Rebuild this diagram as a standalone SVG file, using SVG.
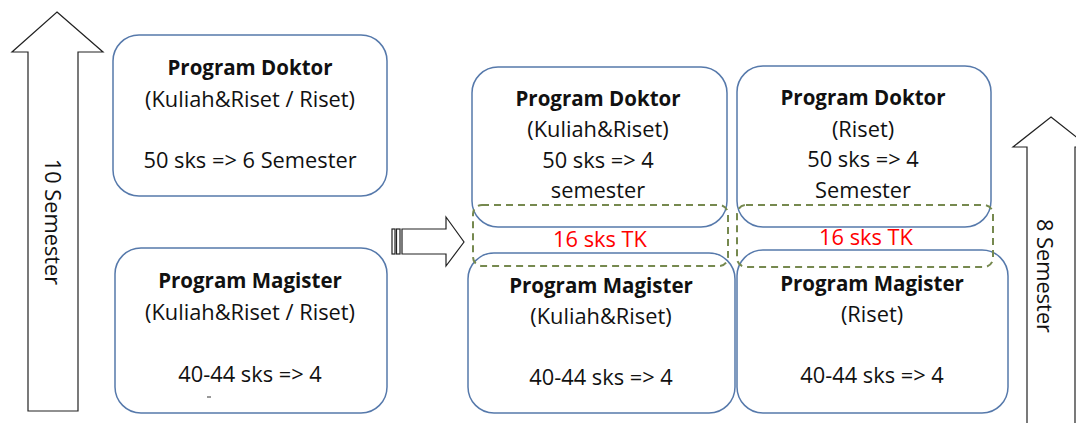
<svg xmlns="http://www.w3.org/2000/svg" width="1076" height="423" viewBox="0 0 1076 423">
<style>
.box{fill:#fff;stroke:#5679ab;stroke-width:1.5}
.arrow{fill:#fff;stroke:#222;stroke-width:1.2}
.dash{fill:none;stroke:#76894f;stroke-width:2;stroke-dasharray:7,5}
text{font-family:"Open Sans","Liberation Sans",sans-serif;fill:#111;text-anchor:middle;font-size:21.8px}
.b{font-weight:bold;font-size:20.5px}
.red{fill:#ff0000}
</style>
<rect width="1076" height="423" fill="#fff"/>
<g id="arrow-10sem">
<path class="arrow" d="M57,12 L103,52 L78,52 L78,411 L28,411 L28,52 L12,52 Z"/>
<text transform="translate(52,222) rotate(90)" dy="7">10 Semester</text>
</g>
<g id="arrow-8sem">
<path class="arrow" d="M1051,117 L1089,147 L1075,147 L1075,430 L1027,430 L1027,147 L1013,147 Z"/>
<text transform="translate(1044,276) rotate(90)" dy="7">8 Semester</text>
</g>
<g id="doktor-old">
<rect class="box" x="113" y="35" width="274" height="161" rx="26"/>
<text class="b" x="250" y="75">Program Doktor</text>
<text x="250" y="107">(Kuliah&amp;Riset / Riset)</text>
<text x="250" y="168">50 sks =&gt; 6 Semester</text>
</g>
<g id="magister-old">
<rect class="box" x="115" y="248" width="272" height="165" rx="26"/>
<text class="b" x="250" y="288">Program Magister</text>
<text x="250" y="320">(Kuliah&amp;Riset / Riset)</text>
<text x="250" y="382">40-44 sks =&gt; 4</text>
<line x1="207" y1="397" x2="211" y2="397" stroke="#333" stroke-width="1"/>
</g>
<g id="transition-arrow">
<rect class="arrow" x="392" y="229" width="3" height="25"/>
<rect class="arrow" x="396.5" y="229" width="3.5" height="25"/>
<path class="arrow" d="M402,229 L446,229 L446,217 L464,242 L446,266 L446,254 L402,254 Z"/>
</g>
<g id="doktor-kr">
<rect class="box" x="472" y="67" width="255" height="160" rx="26"/>
<text class="b" x="598" y="106">Program Doktor</text>
<text x="598" y="137">(Kuliah&amp;Riset)</text>
<text x="598" y="168">50 sks =&gt; 4</text>
<text x="598" y="198">semester</text>
</g>
<g id="doktor-r">
<rect class="box" x="737" y="66" width="254" height="161" rx="26"/>
<text class="b" x="863" y="105">Program Doktor</text>
<text x="863" y="137">(Riset)</text>
<text x="863" y="167">50 sks =&gt; 4</text>
<text x="863" y="198">Semester</text>
</g>
<g id="magister-kr">
<rect class="box" x="468" y="253" width="267" height="160" rx="26"/>
<text class="b" x="601" y="293">Program Magister</text>
<text x="601" y="324">(Kuliah&amp;Riset)</text>
<text x="601" y="385">40-44 sks =&gt; 4</text>
</g>
<g id="magister-r">
<rect class="box" x="737" y="250" width="271" height="163" rx="26"/>
<text class="b" x="872" y="291">Program Magister</text>
<text x="872" y="322">(Riset)</text>
<text x="872" y="383">40-44 sks =&gt; 4</text>
</g>
<g id="tk-kr">
<rect class="dash" x="473" y="205" width="255" height="61" rx="9"/>
<text class="red" x="600" y="247">16 sks TK</text>
</g>
<g id="tk-r">
<rect class="dash" x="737" y="205" width="256" height="62" rx="9"/>
<text class="red" x="866" y="245">16 sks TK</text>
</g>
</svg>
